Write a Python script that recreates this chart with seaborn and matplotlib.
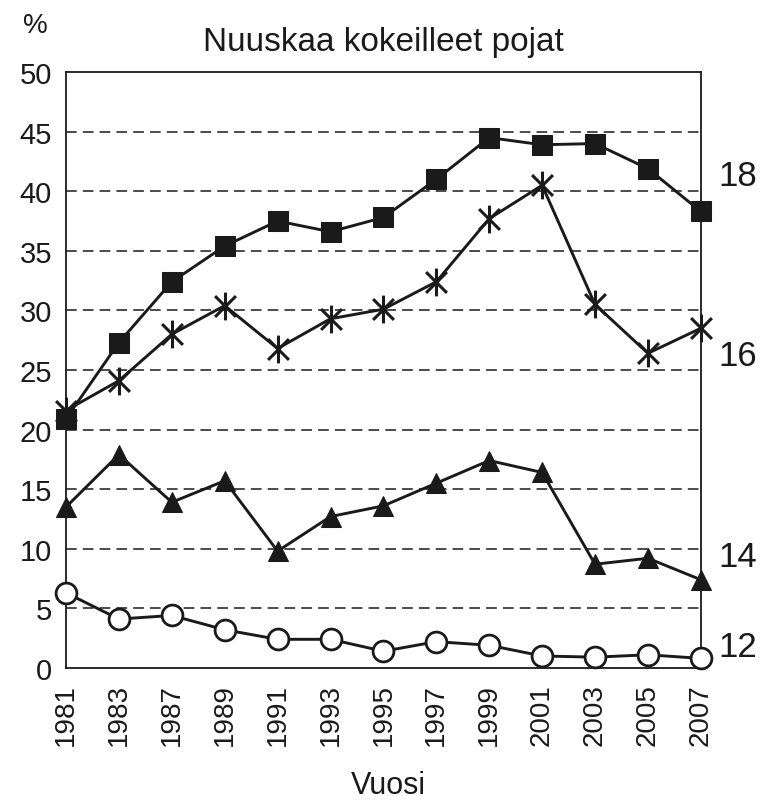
import matplotlib
matplotlib.use("Agg")
import matplotlib.pyplot as plt
import numpy as np
import pandas as pd
import seaborn as sns
from matplotlib.path import Path

years = ["1981", "1983", "1987", "1989", "1991", "1993", "1995",
         "1997", "1999", "2001", "2003", "2005", "2007"]
age_labels = ["18", "16", "14", "12"]
age18 = [20.9, 27.3, 32.4, 35.4, 37.5, 36.6, 37.8, 41.0, 44.5, 43.9, 44.0, 41.9, 38.3]
age16 = [21.6, 24.1, 28.0, 30.4, 26.8, 29.3, 30.1, 32.4, 37.7, 40.5, 30.5, 26.4, 28.5]
age14 = [13.5, 17.9, 13.9, 15.7, 9.8, 12.7, 13.6, 15.5, 17.4, 16.4, 8.7, 9.2, 7.4]
age12 = [6.3, 4.1, 4.4, 3.2, 2.4, 2.4, 1.4, 2.2, 1.9, 1.0, 0.9, 1.1, 0.8]

sns.set_theme(style="white")
plt.rcParams["font.family"] = ["Liberation Sans", "DejaVu Sans"]
ink = "#1a1a1a"

# asterisk: vertical bar plus two diagonals
d = 0.75
asterisk = Path(
    [(0, -1), (0, 1), (-d, -d), (d, d), (-d, d), (d, -d)],
    [Path.MOVETO, Path.LINETO, Path.MOVETO, Path.LINETO, Path.MOVETO, Path.LINETO],
)

series = [
    (age18, dict(marker="s", markersize=15, markerfacecolor=ink, markeredgecolor=ink)),
    (age16, dict(marker=asterisk, markersize=20, markerfacecolor="none", markeredgecolor=ink, markeredgewidth=2.2)),
    (age14, dict(marker="^", markersize=15, markerfacecolor=ink, markeredgecolor=ink)),
    (age12, dict(marker="o", markersize=15, markerfacecolor="white", markeredgecolor=ink, markeredgewidth=2.0)),
]

fig = plt.figure(figsize=(7.63, 8.03), dpi=100)
ax = fig.add_axes([0.0865, 0.167, 0.832, 0.742])

pos = np.arange(len(years))
for vals, style in series:
    df = pd.DataFrame({"pos": pos, "value": vals})
    sns.lineplot(data=df, x="pos", y="value", color=ink, linewidth=2.1, ax=ax,
                 clip_on=False, zorder=3, **style)

for y in range(5, 50, 5):
    ax.axhline(y, color=ink, linewidth=1.1, dashes=(7, 4), zorder=0)

ax.set_xlim(pos[0], pos[-1])
ax.set_ylim(0, 50)
ax.set_xticks(pos)
ax.set_xticklabels(years, rotation=90, fontsize=20, color=ink)
ax.set_yticks(range(0, 51, 5))
ax.set_yticklabels([str(v) for v in range(0, 51, 5)], fontsize=21, color=ink)
ax.tick_params(axis="x", direction="inout", length=12, width=1.2, color=ink, pad=5)
ax.tick_params(axis="y", direction="out", length=7, width=1.2, color=ink, pad=3)
ax.set_xlabel("")
ax.set_ylabel("")
for sp in ax.spines.values():
    sp.set_color(ink)
    sp.set_linewidth(1.3)

ax.set_title("Nuuskaa kokeilleet pojat", fontsize=24, color=ink, pad=16)
fig.text(35 / 763, 1 - 26 / 803, "%", fontsize=20, color=ink, ha="center", va="center")
fig.text(388 / 763, 1 - 786 / 803, "Vuosi", fontsize=22, color=ink, ha="center", va="center")

label_y = [176, 357, 558, 648]
for lab, py in zip(age_labels, label_y):
    fig.text(738 / 763, 1 - py / 803, lab, fontsize=25, color=ink, ha="center", va="center")

fig.savefig("out.png", dpi=100)
